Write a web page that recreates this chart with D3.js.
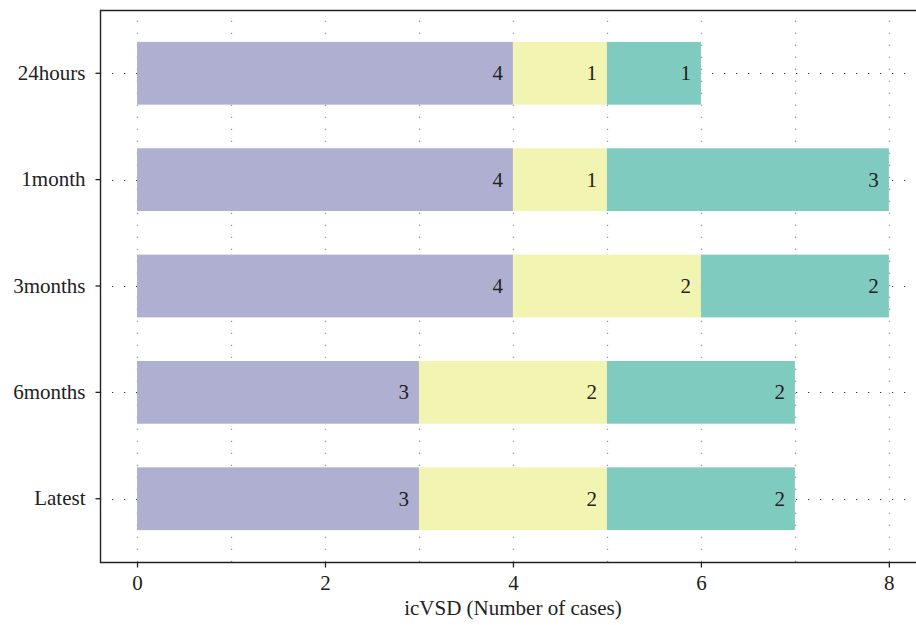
<!DOCTYPE html>
<html>
<head>
<meta charset="utf-8">
<script src="https://cdn.jsdelivr.net/npm/d3@7"></script>
<style>
  body { margin: 0; background: #fff; }
</style>
</head>
<body>
<div class="chart"></div>
<script>
const categories = ["24hours", "1month", "3months", "6months", "Latest"]
const seriesA = [4, 4, 4, 3, 3]
const seriesB = [1, 1, 2, 2, 2]
const seriesC = [1, 3, 2, 2, 2]
const xTicks = [0, 2, 4, 6, 8]
const xGrid = [0, 1, 2, 3, 4, 5, 6, 7, 8]
const colors = ["#afafd2", "#f2f4b1", "#80cbbf"]

let width = 916, height = 625
let mLeft = 100, mTop = 10, mRight = 918, mBottom = 562
let serif = "'Liberation Serif', 'DejaVu Serif', serif"
let fs = "21px"

let svg = d3.select(".chart")
  .append("svg")
  .attr("width", width)
  .attr("height", height)

let x = d3.scaleLinear()
  .domain([-0.394, 8.31])
  .range([mLeft, mRight])

let y = d3.scaleBand()
  .domain(categories)
  .range([mTop, mBottom])
  .paddingInner(0.41)
  .paddingOuter(0.3)

// dotted grid
svg.append("g")
  .selectAll("line")
  .data(xGrid)
  .enter()
  .append("line")
  .attr("x1", d => Math.round(x(d)) + 0.5)
  .attr("x2", d => Math.round(x(d)) + 0.5)
  .attr("y1", mBottom)
  .attr("y2", mTop)
  .style("stroke", "#999")
  .style("stroke-width", 1.3)
  .style("stroke-dasharray", "1.3,10.7")

svg.append("g")
  .selectAll("line")
  .data(categories)
  .enter()
  .append("line")
  .attr("x1", mLeft)
  .attr("x2", mRight)
  .attr("y1", d => Math.round(y(d) + y.bandwidth() / 2) + 0.5)
  .attr("y2", d => Math.round(y(d) + y.bandwidth() / 2) + 0.5)
  .style("stroke", "#333")
  .style("stroke-width", 1.2)
  .style("stroke-dasharray", "1.2,10.8")

// stacked bars
let rows = categories.map((c, i) => {
  let vals = [seriesA[i], seriesB[i], seriesC[i]]
  let start = 0
  return vals.map((v, k) => {
    let seg = { cat: c, k: k, v: v, x0: start, x1: start + v }
    start += v
    return seg
  })
}).flat()

svg.append("g")
  .selectAll("rect")
  .data(rows)
  .enter()
  .append("rect")
  .attr("x", d => x(d.x0))
  .attr("width", d => x(d.x1) - x(d.x0))
  .attr("y", d => y(d.cat))
  .attr("height", y.bandwidth())
  .style("fill", d => colors[d.k])

svg.append("g")
  .selectAll("text")
  .data(rows)
  .enter()
  .append("text")
  .attr("x", d => x(d.x1) - 10)
  .attr("y", d => y(d.cat) + y.bandwidth() / 2)
  .attr("dy", "0.33em")
  .attr("text-anchor", "end")
  .style("font-family", serif)
  .style("font-size", fs)
  .style("fill", "#222")
  .text(d => d.v)

// frame
svg.append("path")
  .attr("d", `M${mRight},${mTop + 0.5}H${mLeft + 0.5}V${mBottom + 0.5}H${mRight}`)
  .style("fill", "none")
  .style("stroke", "#222")
  .style("stroke-width", 1.4)

// x axis
let xAxis = svg.append("g")
  .attr("transform", `translate(0,${mBottom + 0.5})`)
  .call(d3.axisBottom(x).tickValues(xTicks).tickSize(5).tickPadding(8).tickFormat(d3.format("d")))
xAxis.select(".domain").remove()
xAxis.selectAll("line").style("stroke", "#222").style("stroke-width", 1.3)
xAxis.selectAll("text").style("font-family", serif).style("font-size", fs).style("fill", "#222")

// y axis
let yAxis = svg.append("g")
  .attr("transform", `translate(${mLeft + 0.5},0)`)
  .call(d3.axisLeft(y).tickSize(5).tickPadding(10))
yAxis.select(".domain").remove()
yAxis.selectAll("line").style("stroke", "#222").style("stroke-width", 1.3)
yAxis.selectAll("text").style("font-family", serif).style("font-size", fs).style("fill", "#222")

svg.append("text")
  .attr("x", x(4) - 0)
  .attr("y", 615)
  .attr("text-anchor", "middle")
  .style("font-family", serif)
  .style("font-size", fs)
  .style("fill", "#222")
  .text("icVSD (Number of cases)")
</script>
</body>
</html>
